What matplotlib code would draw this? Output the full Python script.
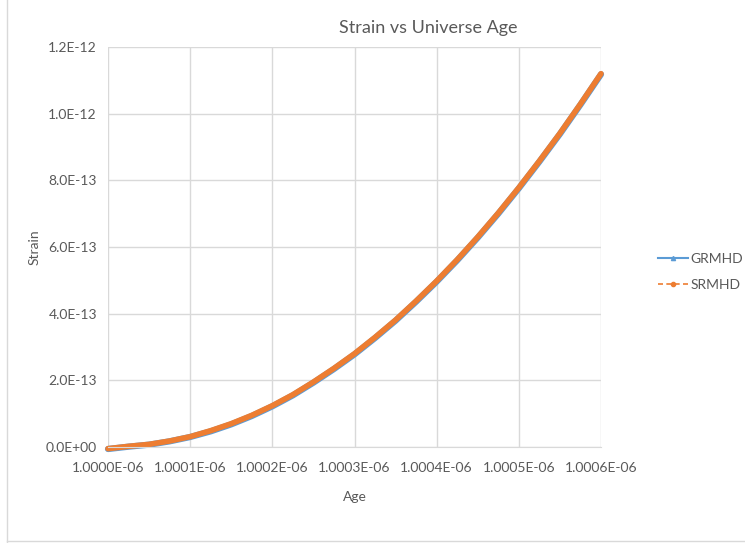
import matplotlib.pyplot as plt
from matplotlib.lines import Line2D
from matplotlib.ticker import FuncFormatter
import numpy as np

plt.rcParams['font.family'] = ['Lato', 'DejaVu Sans']

# age offsets from 1.0000E-06 (in units of 1e-10) and strain (units of 1e-13)
age_offset = [0, 0.25, 0.5, 0.75, 1.0, 1.25, 1.5, 1.75, 2.0, 2.25, 2.5, 2.75, 3.0,
              3.25, 3.5, 3.75, 4.0, 4.25, 4.5, 4.75, 5.0, 5.25, 5.5, 5.75, 6.0]
strain_sr = [-0.05, 0.02, 0.08, 0.18, 0.31, 0.49, 0.70, 0.95, 1.24, 1.57, 1.95, 2.36, 2.80,
             3.29, 3.81, 4.38, 4.98, 5.62, 6.30, 7.02, 7.78, 8.58, 9.41, 10.29, 11.20]
strain_gr = [-0.06, 0.01, 0.07, 0.17, 0.30, 0.47, 0.68, 0.93, 1.22, 1.55, 1.93, 2.34, 2.78,
             3.27, 3.79, 4.36, 4.96, 5.60, 6.28, 7.00, 7.76, 8.56, 9.39, 10.27, 11.18]

age = 1.0e-6 + np.array(age_offset) * 1e-10
gr = np.array(strain_gr) * 1e-13
sr = np.array(strain_sr) * 1e-13

grey = '#595959'
grid = '#d9d9d9'
blue = '#5b9bd5'
orange = '#ed7d31'

fig = plt.figure(figsize=(7.45, 5.43), dpi=100)
ax = fig.add_axes([108 / 745, 1 - 447 / 543, 493 / 745, 400 / 543])

ax.plot(age, gr, color=blue, lw=4.5, solid_capstyle='round', clip_on=False)
ax.plot(age, sr, color=orange, lw=4, solid_capstyle='round', clip_on=False)

ax.set_xlim(1.0e-6, 1.0006e-6)
ax.set_ylim(0, 1.2e-12)
ax.set_xticks(1.0e-6 + np.arange(7) * 1e-10)
ax.set_yticks(np.arange(7) * 2e-13)
ax.xaxis.set_major_formatter(FuncFormatter(lambda v, p: '{:.4E}'.format(v)))
ax.yaxis.set_major_formatter(FuncFormatter(lambda v, p: '{:.1E}'.format(v)))
ax.tick_params(length=0, labelsize=10, colors=grey)
ax.tick_params(axis='x', pad=11)
ax.tick_params(axis='y', pad=8)
ax.grid(True, color=grid, lw=1)
ax.set_axisbelow(True)
for s in ['top', 'right', 'left']:
    ax.spines[s].set_visible(False)
ax.spines['bottom'].set_color(grid)

ax.set_xlabel('Age', fontsize=10, color=grey, labelpad=12)
ax.set_ylabel('Strain', fontsize=10, color=grey, labelpad=4)

fig.text(428 / 745, 1 - 28 / 543, 'Strain vs Universe Age', fontsize=13,
         color=grey, ha='center', va='center')

handles = [Line2D([], [], color=blue, lw=1.5, marker='^', markersize=3),
           Line2D([], [], color=orange, lw=1.2, ls='--', dashes=(3, 2), marker='o', markersize=3)]
fig.legend(handles, ['GRMHD', 'SRMHD'], loc='center left',
           bbox_to_anchor=(645 / 745, 1 - 272 / 543), frameon=False,
           fontsize=10, labelcolor=grey, handlelength=2.2, handletextpad=0.2,
           labelspacing=1.0)

# chart border (left and bottom visible)
fig.add_artist(Line2D([7 / 745, 7 / 745], [0, 1], color=grid, lw=1))
fig.add_artist(Line2D([7 / 745, 1], [2 / 543, 2 / 543], color=grid, lw=1))

fig.savefig('out.png', dpi=100)
